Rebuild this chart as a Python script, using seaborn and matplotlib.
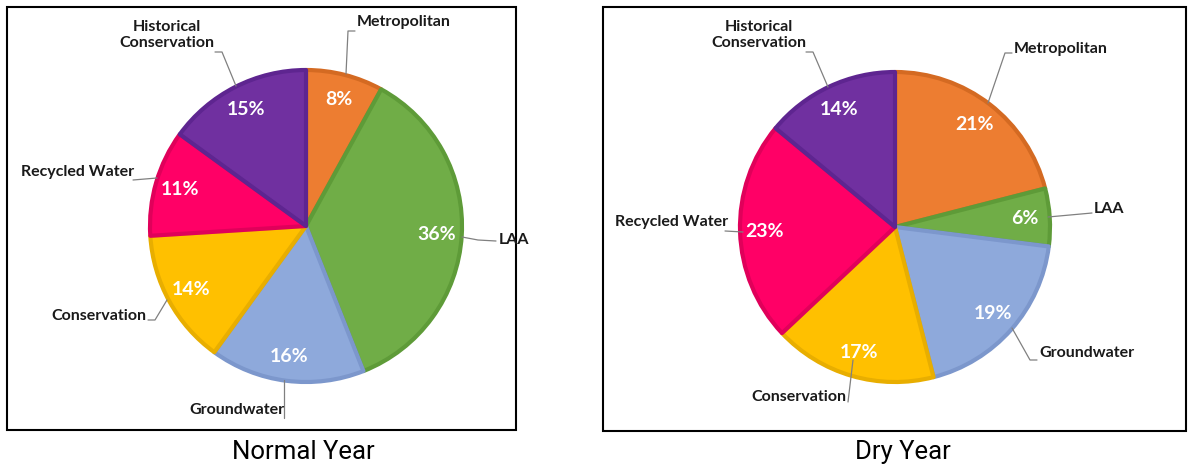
import matplotlib
matplotlib.use("Agg")
import matplotlib.pyplot as plt
from matplotlib.patches import Rectangle
import seaborn as sns

categories = ["Metropolitan", "LAA", "Groundwater", "Conservation", "Recycled Water", "Historical\nConservation"]
normal_year = [8, 36, 16, 14, 11, 15]
dry_year = [21, 6, 19, 17, 23, 14]
panel_titles = ["Normal Year", "Dry Year"]

fill_colors = ["#ED7D31", "#70AD47", "#8EA9DB", "#FFC000", "#FF0066", "#7030A0"]
edge_colors = ["#D46A22", "#5E9B38", "#7C97CC", "#E8AE00", "#E0005A", "#5E2590"]

sns.set_theme(style="white")
palette = sns.color_palette(fill_colors)

# pixel layout (y down)
boxes = [(7, 7, 509, 423), (603, 7, 583, 424)]
centers = [(306, 226), (895, 227)]
radii = [156, 155]
title_pos = [(303, 452), (903, 452)]

# label anchor (x, y, ha) and leader polyline for every slice
label_layout = [
    [
        (357, 22, "left", [(355, 31), (348, 31), (346, 74)]),
        (499, 240, "left", [(462, 237), (478, 240), (496, 241)]),
        (237, 410, "center", [(284, 380), (284, 418)]),
        (99, 316, "center", [(148, 320), (155, 320), (167, 300)]),
        (78, 172, "center", [(133, 180), (157, 178)]),
        (167, 35, "center", [(215, 52), (222, 52), (236, 86)]),
    ],
    [
        (1014, 49, "left", [(1012, 53), (1005, 53), (988, 103)]),
        (1094, 209, "left", [(1048, 217), (1092, 213)]),
        (1039, 353, "left", [(1037, 360), (1030, 360), (1012, 328)]),
        (799, 397, "center", [(848, 402), (853, 360)]),
        (672, 222, "center", [(725, 231), (743, 232)]),
        (759, 35, "center", [(806, 52), (813, 52), (828, 87)]),
    ],
]

fig = plt.figure(figsize=(11.89, 4.68), dpi=100)
ax = fig.add_axes([0, 0, 1, 1])

for i, values in enumerate([normal_year, dry_year]):
    wedges, texts, autotexts = ax.pie(
        values,
        colors=palette,
        center=centers[i],
        radius=radii[i],
        startangle=-90,
        counterclock=True,
        frame=True,
        autopct=lambda p: f"{p:.0f}%",
        pctdistance=0.84,
        textprops=dict(color="white", fontsize=14, fontweight="bold", family=["Lato", "DejaVu Sans"]),
        wedgeprops=dict(linewidth=3, joinstyle="round"),
    )
    for w, ec in zip(wedges, edge_colors):
        w.set_edgecolor(ec)

    for name, (x, y, ha, line) in zip(categories, label_layout[i]):
        xs = [p[0] for p in line]
        ys = [p[1] for p in line]
        ax.plot(xs, ys, color="#808080", lw=0.9, zorder=1)
        ax.text(x, y, name, ha=ha, va="center", fontsize=11.5, fontweight="bold",
                color="#1a1a1a", linespacing=1.1, family=["Lato", "DejaVu Sans"])

    bx, by, bw, bh = boxes[i]
    ax.add_patch(Rectangle((bx, by), bw, bh, fill=False, edgecolor="black", lw=1.5))
    ax.text(title_pos[i][0], title_pos[i][1], panel_titles[i], ha="center", va="center",
            fontsize=18.5, color="black",
            family=["Roboto", "DejaVu Sans"])

ax.set_xlim(0, 1189)
ax.set_ylim(468, 0)
ax.set_aspect("auto")
ax.axis("off")

fig.savefig("out.png", dpi=100)
